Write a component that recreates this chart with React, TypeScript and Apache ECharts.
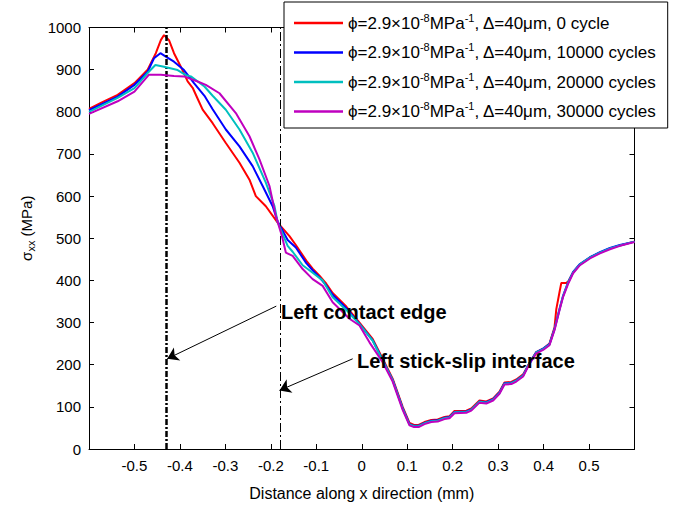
import React, { useEffect, useRef } from "react";
import * as echarts from "echarts";

const FONT = "'Liberation Sans', Arial, Helvetica, sans-serif";

// x positions (mm) and sigma_xx (MPa) for each cycle count
const redX = [-0.6, -0.574, -0.537, -0.5, -0.471, -0.453, -0.442, -0.435, -0.424, -0.413, -0.398, -0.383, -0.372, -0.361, -0.35, -0.339, -0.328, -0.299, -0.269, -0.247, -0.233, -0.211, -0.185, -0.159, -0.145, -0.122, -0.108, -0.093, -0.078, -0.064, -0.034, -0.005, 0.024, 0.046, 0.068, 0.09, 0.105, 0.115, 0.125, 0.138, 0.153, 0.167, 0.182, 0.193, 0.204, 0.23, 0.241, 0.259, 0.274, 0.289, 0.303, 0.314, 0.329, 0.34, 0.355, 0.369, 0.384, 0.399, 0.413, 0.424, 0.428, 0.435, 0.439, 0.45, 0.454, 0.465, 0.48, 0.502, 0.524, 0.546, 0.568, 0.6];
const redY = [807, 821, 840, 868, 900, 939, 970, 982, 970, 939, 907, 872, 857, 831, 805, 789, 773, 726, 679, 639, 600, 576, 537, 505, 484, 447, 428, 411, 392, 370, 338, 300, 261, 214, 167, 100, 62, 57, 57, 64, 69, 70, 76, 78, 90, 91, 96, 115, 113, 120, 136, 158, 159, 165, 177, 204, 230, 238, 250, 288, 332, 372, 394, 394, 397, 419, 438, 454, 466, 476, 483, 492];

const blueX = [-0.6, -0.537, -0.5, -0.471, -0.457, -0.443, -0.431, -0.413, -0.391, -0.369, -0.346, -0.328, -0.299, -0.269, -0.24, -0.218, -0.196, -0.185, -0.163, -0.145, -0.122, -0.108, -0.093, -0.078, -0.064, -0.034, -0.005, 0.024, 0.046, 0.068, 0.09, 0.105, 0.115, 0.125, 0.138, 0.153, 0.167, 0.182, 0.193, 0.204, 0.23, 0.241, 0.259, 0.274, 0.289, 0.303, 0.314, 0.329, 0.34, 0.355, 0.369, 0.384, 0.399, 0.413, 0.424, 0.435, 0.443, 0.454, 0.465, 0.48, 0.502, 0.524, 0.546, 0.568, 0.6];
const blueY = [804, 836, 864, 895, 927, 939, 931, 919, 899, 868, 838, 806, 758, 718, 671, 624, 576, 540, 496, 478, 441, 424, 407, 388, 366, 334, 297, 258, 211, 164, 97, 59, 55, 55, 62, 67, 68, 74, 76, 88, 89, 94, 113, 111, 118, 134, 156, 157, 163, 175, 204, 230, 238, 249, 285, 332, 364, 396, 420, 439, 455, 467, 477, 484, 492];

const cyanX = [-0.6, -0.537, -0.5, -0.471, -0.454, -0.435, -0.405, -0.387, -0.376, -0.346, -0.328, -0.299, -0.269, -0.24, -0.211, -0.192, -0.185, -0.163, -0.152, -0.13, -0.108, -0.086, -0.064, -0.034, -0.005, 0.024, 0.046, 0.068, 0.09, 0.105, 0.115, 0.125, 0.138, 0.153, 0.167, 0.182, 0.193, 0.204, 0.23, 0.241, 0.259, 0.274, 0.289, 0.303, 0.314, 0.329, 0.34, 0.355, 0.369, 0.384, 0.399, 0.413, 0.424, 0.435, 0.443, 0.454, 0.465, 0.48, 0.502, 0.524, 0.546, 0.568, 0.6];
const cyanY = [800, 833, 856, 892, 911, 907, 899, 887, 884, 860, 838, 805, 758, 703, 632, 576, 538, 482, 468, 436, 418, 400, 360, 330, 296, 257, 210, 163, 96, 58, 54, 54, 61, 66, 67, 73, 75, 87, 88, 93, 112, 110, 117, 133, 155, 156, 162, 174, 204, 229, 237, 248, 284, 331, 363, 395, 419, 438, 454, 466, 476, 483, 492];

const magentaX = [-0.6, -0.537, -0.5, -0.468, -0.442, -0.413, -0.391, -0.361, -0.343, -0.313, -0.277, -0.247, -0.225, -0.203, -0.189, -0.178, -0.174, -0.167, -0.152, -0.13, -0.108, -0.086, -0.064, -0.027, -0.005, 0.017, 0.046, 0.068, 0.09, 0.105, 0.115, 0.125, 0.138, 0.153, 0.167, 0.182, 0.193, 0.204, 0.23, 0.241, 0.259, 0.274, 0.289, 0.303, 0.314, 0.329, 0.34, 0.355, 0.369, 0.384, 0.399, 0.413, 0.424, 0.435, 0.443, 0.454, 0.465, 0.48, 0.502, 0.524, 0.546, 0.568, 0.6];
const magentaY = [795, 825, 848, 888, 888, 885, 884, 872, 864, 844, 797, 742, 687, 624, 553, 514, 498, 466, 458, 427, 403, 387, 348, 309, 293, 253, 206, 160, 93, 56, 52, 52, 59, 64, 65, 71, 73, 85, 86, 91, 110, 108, 115, 131, 153, 154, 160, 172, 202, 227, 235, 246, 282, 329, 361, 392, 417, 436, 452, 464, 474, 482, 491];

const seriesNames = ["0 cycle", "10000 cycles", "20000 cycles", "30000 cycles"];
const seriesColors = ["#ff0000", "#0000ff", "#00bfbf", "#bf00bf"];

// annotation lines (x in mm)
const contactEdgeX = -0.43;
const stickSlipX = -0.18;
const arrowContact = [[-0.188, 339], [-0.428, 214]];
const arrowStick = [[-0.02, 214], [-0.181, 139]];

const pairs = (xs: number[], ys: number[]) => xs.map((x, i) => [x, ys[i]]);

export default function App() {
  const ref = useRef<HTMLDivElement>(null);
  useEffect(() => {
    if (!ref.current) return;
    const chart = echarts.init(ref.current, null, { renderer: "svg" });
    const allData = [
      pairs(redX, redY),
      pairs(blueX, blueY),
      pairs(cyanX, cyanY),
      pairs(magentaX, magentaY),
    ];
    const lineSeries = allData.map((d, i) => ({
      name: seriesNames[i],
      type: "line",
      data: d,
      showSymbol: false,
      symbol: "none",
      color: seriesColors[i],
      lineStyle: { color: seriesColors[i], width: 2 },
      xAxisIndex: 0,
      yAxisIndex: 0,
      z: 3 + i,
    }));
    const tickFmt = (v: number) =>
      Math.abs(v) > 0.55 ? "" : String(Math.round(v * 10) / 10);
    const option: any = {
      animation: false,
      backgroundColor: "#fff",
      textStyle: { fontFamily: FONT },
      grid: { left: 89, right: 41.5, top: 27.5, bottom: 55.5, containLabel: false },
      xAxis: [
        {
          type: "value",
          min: -0.6,
          max: 0.6,
          interval: 0.1,
          position: "bottom",
          axisLine: { show: true, onZero: false, lineStyle: { color: "#000", width: 1 } },
          axisTick: { show: true, inside: true, length: 5, lineStyle: { color: "#000" } },
          splitLine: { show: false },
          axisLabel: { formatter: tickFmt, color: "#000", fontSize: 15, fontFamily: FONT, margin: 9 },
          name: "Distance along x direction (mm)",
          nameLocation: "middle",
          nameGap: 36,
          nameTextStyle: { color: "#000", fontSize: 16, fontFamily: FONT },
        },
        {
          type: "value",
          min: -0.6,
          max: 0.6,
          interval: 0.1,
          position: "top",
          axisLine: { show: true, onZero: false, lineStyle: { color: "#000", width: 1 } },
          axisTick: { show: true, inside: true, length: 5, lineStyle: { color: "#000" } },
          splitLine: { show: false },
          axisLabel: { show: false },
        },
      ],
      yAxis: [
        {
          type: "value",
          min: 0,
          max: 1000,
          interval: 100,
          position: "left",
          axisLine: { show: true, onZero: false, lineStyle: { color: "#000", width: 1 } },
          axisTick: { show: true, inside: true, length: 5, lineStyle: { color: "#000" } },
          splitLine: { show: false },
          axisLabel: {
            formatter: (v: number) => String(v),
            color: "#000",
            fontSize: 15,
            fontFamily: FONT,
            margin: 8,
          },
          name: "{a|σ}{b|xx}{a| (MPa)}",
          nameLocation: "middle",
          nameRotate: 90,
          nameGap: 49,
          nameTextStyle: {
            color: "#000",
            fontFamily: FONT,
            padding: [0, 0, 0, 20],
            rich: {
              a: { fontSize: 15, lineHeight: 20, color: "#000", fontFamily: FONT },
              b: { fontSize: 11, verticalAlign: "bottom", color: "#000", fontFamily: FONT },
            },
          },
        },
        {
          type: "value",
          min: 0,
          max: 1000,
          interval: 100,
          position: "right",
          axisLine: { show: true, onZero: false, lineStyle: { color: "#000", width: 1 } },
          axisTick: { show: true, inside: true, length: 5, lineStyle: { color: "#000" } },
          splitLine: { show: false },
          axisLabel: { show: false },
        },
      ],
      legend: {
        orient: "vertical",
        left: 284,
        top: 2,
        padding: [10, 11, 8, 10],
        itemGap: 10,
        itemWidth: 49,
        itemHeight: 2.5,
        icon: "rect",
        backgroundColor: "#fff",
        borderColor: "#000",
        borderWidth: 1,
        borderRadius: 0,
        data: seriesNames,
        formatter: (name: string) =>
          "{a|ϕ=2.9×10}{s|-8}{a|MPa}{s|-1}{a|, Δ=40μm, " + name + "}",
        textStyle: {
          color: "#000",
          fontFamily: FONT,
          fontSize: 17,
          rich: {
            a: { fontSize: 17, lineHeight: 22, color: "#000", fontFamily: FONT },
            s: { fontSize: 11, verticalAlign: "top", color: "#000", fontFamily: FONT },
          },
        },
      },
      series: [
        ...lineSeries,
        {
          name: "vlines",
          type: "line",
          data: [],
          xAxisIndex: 0,
          yAxisIndex: 0,
          z: 10,
          markLine: {
            silent: true,
            animation: false,
            symbol: ["none", "none"],
            label: { show: false },
            data: [
              { xAxis: contactEdgeX, lineStyle: { color: "#000", width: 2.5, type: [6, 2, 2, 2] } },
              { xAxis: stickSlipX, lineStyle: { color: "#000", width: 1, type: [9, 3, 2, 3] } },
            ],
          },
        },
        {
          name: "arrows",
          type: "line",
          data: [],
          xAxisIndex: 0,
          yAxisIndex: 0,
          z: 10,
          markLine: {
            silent: true,
            animation: false,
            symbol: ["none", "arrow"],
            symbolSize: 11,
            label: { show: false },
            lineStyle: { color: "#000", width: 1, type: "solid" },
            data: [
              [{ coord: arrowContact[0] }, { coord: arrowContact[1] }],
              [{ coord: arrowStick[0] }, { coord: arrowStick[1] }],
            ],
          },
        },
      ],
      graphic: [
        {
          type: "text",
          x: 281,
          y: 312,
          z: 100,
          style: {
            text: "Left contact edge",
            fontSize: 20,
            fontWeight: "bold",
            fontFamily: FONT,
            fill: "#000",
            verticalAlign: "middle",
            align: "left",
          },
        },
        {
          type: "text",
          x: 357,
          y: 361,
          z: 100,
          style: {
            text: "Left stick-slip interface",
            fontSize: 20,
            fontWeight: "bold",
            fontFamily: FONT,
            fill: "#000",
            verticalAlign: "middle",
            align: "left",
          },
        },
      ],
    };
    chart.setOption(option);
    return () => chart.dispose();
  }, []);
  return (
    <div
      ref={ref}
      style={{ position: "absolute", left: 0, top: 0, width: 676, height: 506, background: "#fff" }}
    />
  );
}
